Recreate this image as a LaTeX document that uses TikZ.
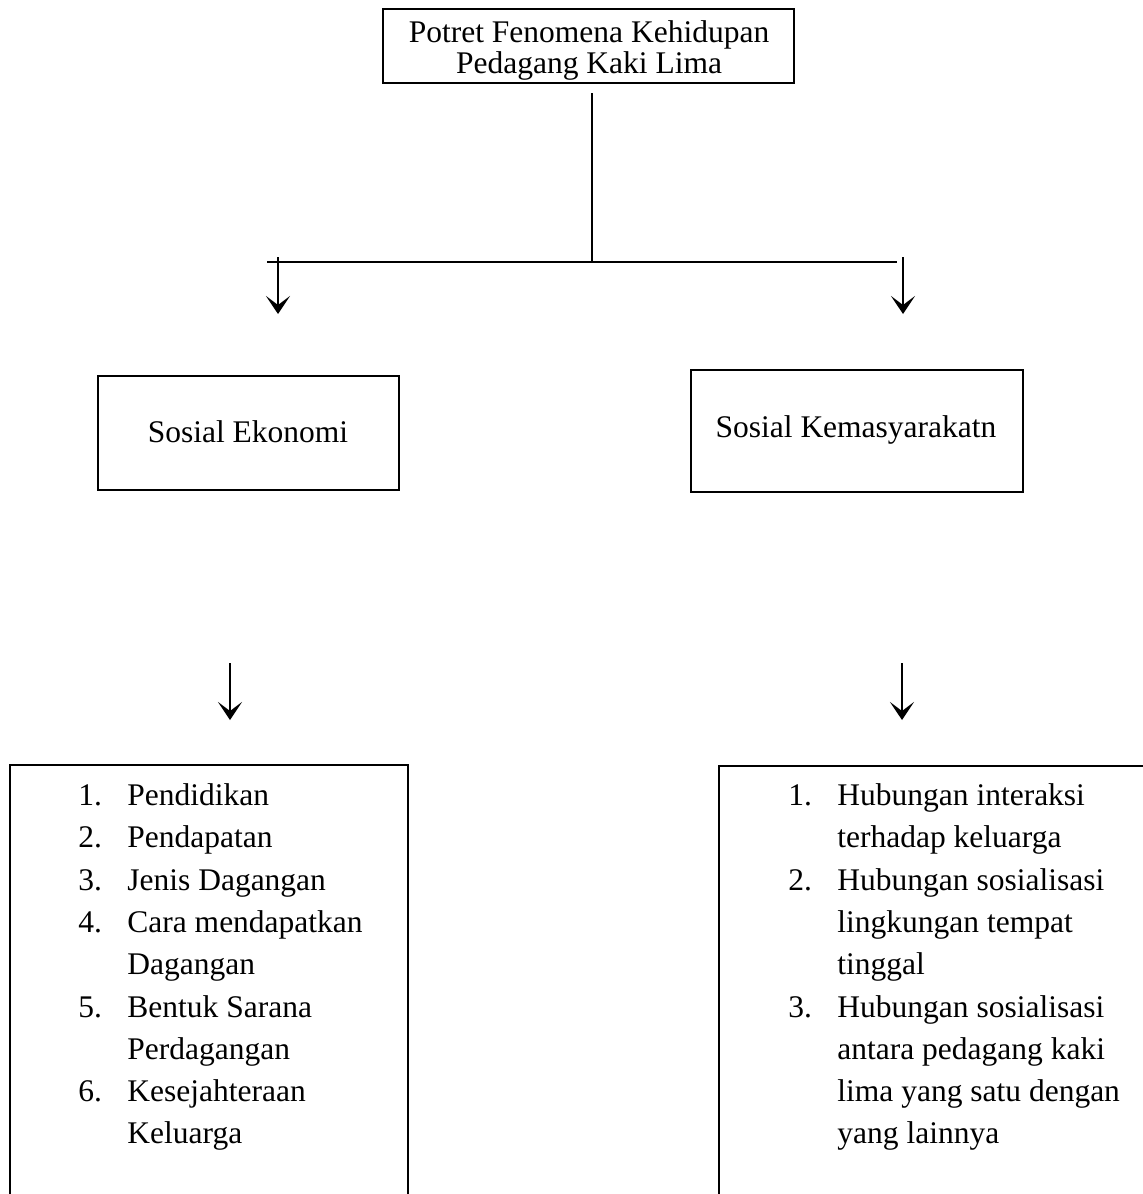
\documentclass[tikz,border=0pt]{standalone}
\usepackage{fontspec}
\setmainfont{Liberation Serif}
\usetikzlibrary{arrows.meta}
\begin{document}
\begin{tikzpicture}[x=0.5pt,y=-0.5pt,
  boxnode/.style={draw,line width=1pt,inner sep=0pt,rectangle},
  txt/.style={inner sep=0pt,font=\fontsize{15.75}{16}\selectfont},
  ctxt/.style={txt,anchor=base},
  ltxt/.style={txt,anchor=base west},
  conn/.style={line width=1pt},
  downarrow/.style={line width=1.4pt,-{Stealth[length=9pt,width=12pt,inset=4.5pt]}},
  openbox/.style={line width=0.8pt}
]
\useasboundingbox (0,0) rectangle (1143,1194);

% top box
\node[boxnode,line width=1.3pt,minimum width=205.5pt,minimum height=37pt] (top) at (588.5,46) {};
\node[ctxt] (topa) at (589,42) {Potret Fenomena Kehidupan};
\node[ctxt] (topb) at (589,73) {Pedagang Kaki Lima};

% middle boxes
\node[boxnode,minimum width=150.5pt,minimum height=57pt] (eko) at (248.5,433) {};
\node[ctxt] (ekot) at (248,442) {Sosial Ekonomi};
\node[boxnode,minimum width=166pt,minimum height=61pt] (mas) at (857,431) {};
\node[ctxt] (mast) at (856,437) {Sosial Kemasyarakatn};

% tree connectors
\coordinate (junc) at (592,262);
\coordinate (hl) at (267,262);
\coordinate (hr) at (897,262);
\draw[conn,shorten <=4.5pt] (top.south -| junc) -- (junc);
\draw[conn] (hl) -- (hr);

% arrows
\coordinate (a1s) at (278,257); \coordinate (a1e) at (278,314);
\coordinate (a2s) at (903,257); \coordinate (a2e) at (903,314);
\coordinate (a3s) at (230,663); \coordinate (a3e) at (230,720);
\coordinate (a4s) at (902,663); \coordinate (a4e) at (902,720);
\draw[downarrow] (a1s) -- (a1e);
\draw[downarrow] (a2s) -- (a2e);
\draw[downarrow] (a3s) -- (a3e);
\draw[downarrow] (a4s) -- (a4e);

% bottom open boxes
\coordinate (lb1) at (10,1194); \coordinate (lb2) at (10,765);
\coordinate (lb3) at (408,765); \coordinate (lb4) at (408,1194);
\draw[openbox] (lb1) -- (lb2) -- (lb3) -- (lb4);
\coordinate (rb1) at (719,1194); \coordinate (rb2) at (719,766);
\coordinate (rb3) at (1143,766);
\draw[openbox] (rb1) -- (rb2) -- (rb3);

% left list
\node[ltxt] (l1n) at (78,805) {1.};   \node[ltxt] (l1) at (127,805) {Pendidikan};
\node[ltxt] (l2n) at (78,847) {2.};   \node[ltxt] (l2) at (127,847) {Pendapatan};
\node[ltxt] (l3n) at (78,890) {3.};   \node[ltxt] (l3) at (127,890) {Jenis Dagangan};
\node[ltxt] (l4n) at (78,932) {4.};   \node[ltxt] (l4) at (127,932) {Cara mendapatkan};
\node[ltxt] (l4b) at (127,974) {Dagangan};
\node[ltxt] (l5n) at (78,1017) {5.};  \node[ltxt] (l5) at (127,1017) {Bentuk Sarana};
\node[ltxt] (l5b) at (127,1059) {Perdagangan};
\node[ltxt] (l6n) at (78,1101) {6.};  \node[ltxt] (l6) at (127,1101) {Kesejahteraan};
\node[ltxt] (l6b) at (127,1143) {Keluarga};

% right list
\node[ltxt] (r1n) at (788,805) {1.};  \node[ltxt] (r1) at (837,805) {Hubungan interaksi};
\node[ltxt] (r1b) at (837,847) {terhadap keluarga};
\node[ltxt] (r2n) at (788,890) {2.};  \node[ltxt] (r2) at (837,890) {Hubungan sosialisasi};
\node[ltxt] (r2b) at (837,932) {lingkungan tempat};
\node[ltxt] (r2c) at (837,974) {tinggal};
\node[ltxt] (r3n) at (788,1017) {3.}; \node[ltxt] (r3) at (837,1017) {Hubungan sosialisasi};
\node[ltxt] (r3b) at (837,1059) {antara pedagang kaki};
\node[ltxt] (r3c) at (837,1101) {lima yang satu dengan};
\node[ltxt] (r3d) at (837,1143) {yang lainnya};
\end{tikzpicture}
\end{document}
